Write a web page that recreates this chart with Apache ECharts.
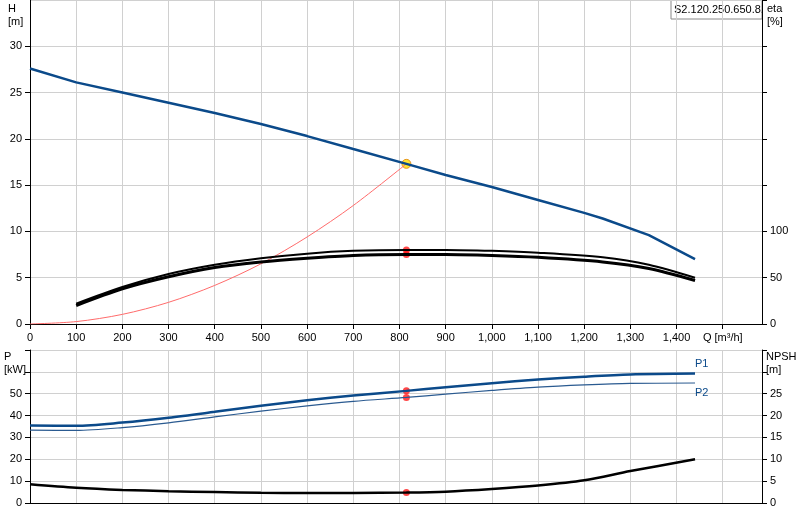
<!DOCTYPE html><html><head><meta charset="utf-8"><script src="https://cdn.jsdelivr.net/npm/echarts@6/dist/echarts.min.js"></script></head><body style="margin:0"><div id="c" style="width:800px;height:520px"></div><script>
const qH=[0,100,200,300,400,500,600,700,815,900,1000,1100,1200,1240,1340,1440];
const H=[27.6,26.1,25,23.9,22.8,21.6,20.3,18.9,17.3,16.1,14.8,13.4,12.0,11.4,9.6,7.0];
const qEta=[100,200,300,400,500,600,700,815,900,1000,1100,1240,1340,1440];
const eta1=[22,40,54,64,71,76,79,80,80,79,77,72,64,50];
const eta2=[20,38,51,61,67,71,74,75,75,74,72,67,60,47];
const qSys=[0,100,200,300,400,500,600,700,815];
const sysH=[0,0.26,1.04,2.34,4.17,6.5,9.4,12.8,17.3];
const qP=[0,100,200,300,400,500,600,700,815,900,1000,1100,1200,1300,1440];
const P1=[35.5,35.3,36.8,39,41.7,44.5,47,49.2,51.3,53,54.8,56.5,57.8,58.8,59.2];
const P2=[33.3,33.2,34.5,36.7,39.4,42,44.4,46.5,48.3,49.8,51.5,53,54,54.7,54.9];
const npsh=[4.3,3.5,3.0,2.7,2.5,2.35,2.3,2.3,2.4,2.6,3.2,4.0,5.2,7.3,10];
const duty={q:815,h:17.3,eta1:80,eta2:75,p1:51.3,p2:48.3,npsh:2.4};
const z=(a,b)=>a.map((v,i)=>[v,b[i]]);
const lbl={color:'#000',fontSize:11,fontFamily:'Arial, Liberation Sans'};
const gl={show:true,lineStyle:{color:'#d0d0d0'}};
const ax={lineStyle:{color:'#000'}};
const tk={show:true,lineStyle:{color:'#000'}};
const ch=echarts.init(document.getElementById('c'));
ch.setOption({animation:false,
grid:[{left:30,right:38,top:0,height:324},{left:30,right:38,top:350,height:153}],
xAxis:[{gridIndex:0,type:'value',min:0,max:1585,interval:100,axisLine:ax,axisTick:tk,splitLine:gl,
 axisLabel:{...lbl,showMaxLabel:false,formatter:v=>v==1500?'Q [m³/h]':v.toLocaleString('en-US')}},
{gridIndex:1,type:'value',min:0,max:1585,interval:100,axisLine:ax,axisTick:{show:false},splitLine:gl,axisLabel:{show:false}}],
yAxis:[{gridIndex:0,type:'value',min:0,max:35,interval:5,axisLine:{show:true,...ax},axisTick:tk,splitLine:gl,axisLabel:{...lbl,showMaxLabel:false}},
{gridIndex:0,type:'value',min:0,max:350,interval:50,position:'right',axisLine:{show:true,...ax},axisTick:{show:true,lineStyle:{color:'#000'}},splitLine:{show:false},axisLabel:{...lbl,formatter:v=>v<=100?v:''}},
{gridIndex:1,type:'value',min:0,max:70,interval:10,axisLine:{show:true,...ax},axisTick:tk,splitLine:gl,axisLabel:{...lbl,formatter:v=>v<=50?v:''}},
{gridIndex:1,type:'value',min:0,max:35,interval:5,position:'right',axisLine:{show:true,...ax},axisTick:tk,splitLine:{show:false},axisLabel:{...lbl,formatter:v=>v<=25?v:''}}],
graphic:[
{type:'text',left:8,top:2,style:{text:'H\n[m]',fill:'#000',font:'11px Arial',lineHeight:13}},
{type:'text',left:767,top:2,style:{text:'eta\n[%]',fill:'#000',font:'11px Arial',lineHeight:13}},
{type:'text',left:4,top:350,style:{text:'P\n[kW]',fill:'#000',font:'11px Arial',lineHeight:13}},
{type:'text',left:766,top:350,style:{text:'NPSH\n[m]',fill:'#000',font:'11px Arial',lineHeight:13}},
{type:'rect',shape:{x:671,y:0,width:91,height:19},style:{fill:'#fff',stroke:'#888'}},
{type:'text',left:674,top:4,style:{text:'S2.120.250.650.8.',fill:'#000',font:'11px Arial'}}],
series:[
{type:'line',data:z(qSys,sysH),xAxisIndex:0,yAxisIndex:0,symbol:'none',smooth:0.3,lineStyle:{color:'#ff6b6b',width:1}},
{type:'line',data:z(qEta,eta1),xAxisIndex:0,yAxisIndex:1,symbol:'none',smooth:0.3,lineStyle:{color:'#000',width:2}},
{type:'line',data:z(qEta,eta2),xAxisIndex:0,yAxisIndex:1,symbol:'none',smooth:0.3,lineStyle:{color:'#000',width:3}},
{type:'line',data:z(qH,H),xAxisIndex:0,yAxisIndex:0,symbol:'none',lineStyle:{color:'#0b4a8a',width:2.5}},
{type:'scatter',data:[[duty.q,duty.eta1],[duty.q,duty.eta2]],xAxisIndex:0,yAxisIndex:1,symbolSize:7,itemStyle:{color:'#ff1a1a'}},
{type:'scatter',data:[[duty.q,duty.h]],xAxisIndex:0,yAxisIndex:0,symbolSize:9,itemStyle:{color:'#ffdd00',borderColor:'#e08000',borderWidth:1}},
{type:'line',data:z(qP,P1),xAxisIndex:1,yAxisIndex:2,symbol:'none',smooth:0.3,lineStyle:{color:'#0b4a8a',width:2.5},endLabel:{show:true,formatter:'P1',color:'#0b4a8a',fontSize:11,offset:[-8,-10]}},
{type:'line',data:z(qP,P2),xAxisIndex:1,yAxisIndex:2,symbol:'none',smooth:0.3,lineStyle:{color:'#2a5a90',width:1.2},endLabel:{show:true,formatter:'P2',color:'#0b4a8a',fontSize:11,offset:[-8,10]}},
{type:'line',data:z(qP,npsh),xAxisIndex:1,yAxisIndex:3,symbol:'none',smooth:0.3,lineStyle:{color:'#000',width:2.5}},
{type:'scatter',data:[[duty.q,duty.p1],[duty.q,duty.p2]],xAxisIndex:1,yAxisIndex:2,symbolSize:7,itemStyle:{color:'#ff1a1a'}},
{type:'scatter',data:[[duty.q,duty.npsh]],xAxisIndex:1,yAxisIndex:3,symbolSize:7,itemStyle:{color:'#ff1a1a'}}]});
</script></body></html>
